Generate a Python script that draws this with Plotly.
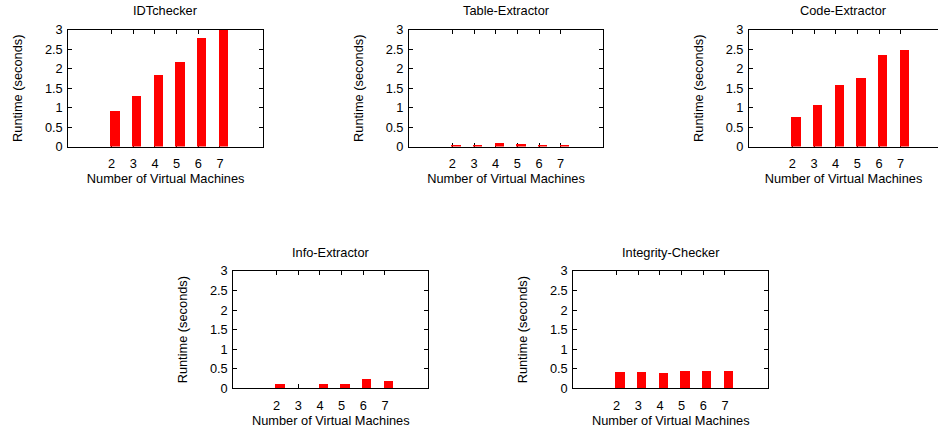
import plotly.graph_objects as go

W, H = 938, 430

vms = [2, 3, 4, 5, 6, 7]
titles = ["IDTchecker", "Table-Extractor", "Code-Extractor", "Info-Extractor", "Integrity-Checker"]
idtchecker = [0.92, 1.30, 1.83, 2.18, 2.79, 3.00]
table_extractor = [0.04, 0.03, 0.09, 0.06, 0.03, 0.04]
code_extractor = [0.75, 1.06, 1.58, 1.77, 2.35, 2.49]
info_extractor = [0.10, 0.0, 0.10, 0.10, 0.25, 0.18]
integrity_checker = [0.42, 0.42, 0.40, 0.44, 0.44, 0.43]
series = [idtchecker, table_extractor, code_extractor, info_extractor, integrity_checker]

y_ticks = [0, 0.5, 1, 1.5, 2, 2.5, 3]
y_ticktext = ["0", "0.5", "1", "1.5", "2", "2.5", "3"]
x_title = "Number of Virtual Machines"
y_title = "Runtime (seconds)"

# pixel boxes (left, right, top, bottom) for each panel
boxes = [
    (68.3, 263.0, 30.0, 146.5),
    (409.0, 603.0, 30.0, 146.5),
    (749.0, 938.0, 30.0, 146.5),
    (233.3, 428.3, 271.0, 388.3),
    (573.3, 768.3, 271.0, 388.3),
]
px_per_unit = 195.0 / 9.0

FONT = "Liberation Sans, Arial, Helvetica, sans-serif"
FS = 12.8

fig = go.Figure()
annotations = []
for i, (vals, box) in enumerate(zip(series, boxes)):
    n = i + 1
    xa = "x" if n == 1 else f"x{n}"
    ya = "y" if n == 1 else f"y{n}"
    fig.add_trace(go.Bar(
        x=vms, y=vals, xaxis=xa, yaxis=ya,
        offset=-0.04, width=0.43,
        marker=dict(color="#ff0000", line=dict(width=0)),
        showlegend=False,
    ))
    l, r, t, b = box
    xmax = (r - l) / px_per_unit
    clipped = (r >= W)
    xkey = "xaxis" if n == 1 else f"xaxis{n}"
    ykey = "yaxis" if n == 1 else f"yaxis{n}"
    fig.layout[xkey] = dict(
        domain=[l / W, r / W], range=[0, xmax], anchor=ya,
        tickvals=vms, ticktext=[str(v) for v in vms],
        ticks="inside", ticklen=4, tickwidth=1, tickcolor="black",
        showline=True, linecolor="black", linewidth=1, mirror="ticks",
        showgrid=False, zeroline=False, automargin=False,
        layer="below traces",
        tickfont=dict(family=FONT, size=FS, color="black"),
        ticklabelstandoff=5,
        title=dict(text=x_title, font=dict(family=FONT, size=FS, color="black"), standoff=4),
        fixedrange=True,
    )
    fig.layout[ykey] = dict(
        domain=[1 - b / H, 1 - t / H], range=[0, 3], anchor=xa,
        tickvals=y_ticks, ticktext=y_ticktext,
        ticks="inside", ticklen=4, tickwidth=1, tickcolor="black",
        showline=True, linecolor="black", linewidth=1,
        mirror=False if clipped else "ticks",
        showgrid=False, zeroline=False, automargin=False,
        layer="below traces",
        tickfont=dict(family=FONT, size=FS, color="black"),
        ticklabelstandoff=2,
        title=dict(text=y_title, font=dict(family=FONT, size=FS, color="black"), standoff=19),
        fixedrange=True,
    )
    annotations.append(dict(
        text=titles[i], xref="paper", yref="paper",
        x=((l + min(r, l + 195.0)) / 2) / W, y=1 - (t - 19) / H,
        xanchor="center", yanchor="middle", showarrow=False,
        font=dict(family=FONT, size=FS, color="black"),
    ))

fig.update_layout(
    width=W, height=H, autosize=False,
    margin=dict(l=0, r=0, t=0, b=0, autoexpand=False),
    paper_bgcolor="white", plot_bgcolor="white",
    annotations=annotations,
    bargap=0,
)

fig.write_html("out.html")
